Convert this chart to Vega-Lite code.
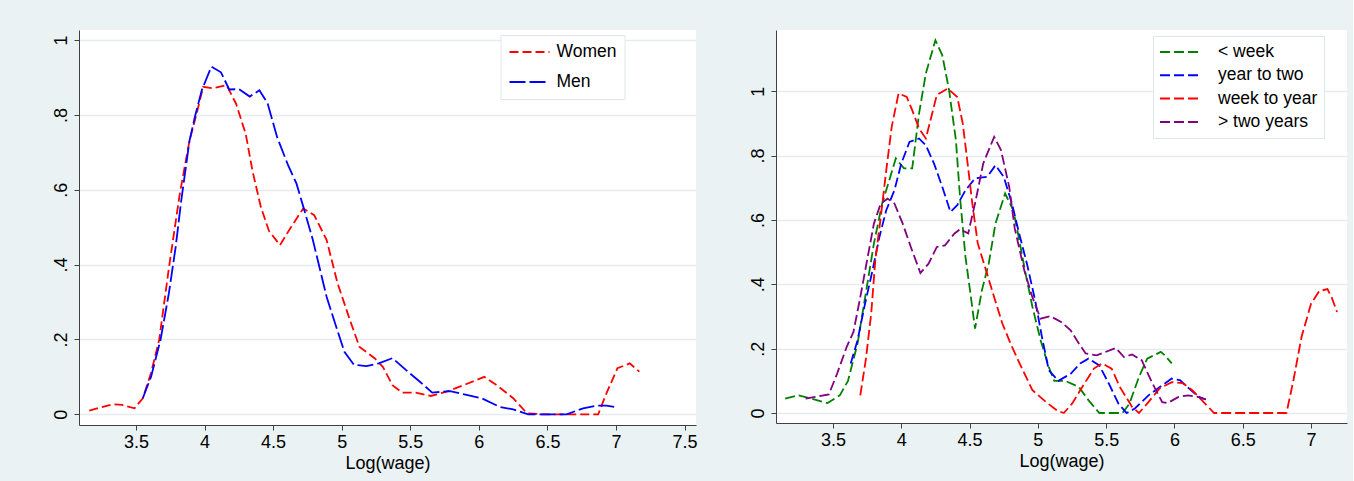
{
  "$schema": "https://vega.github.io/schema/vega-lite/v6.json",
  "background": "#eaf2f3",
  "autosize": {"type": "pad"},
  "padding": {"left": 52, "top": 30, "right": 6, "bottom": 9},
  "bounds": "flush",
  "spacing": 80,
  "resolve": {
    "scale": {"color": "independent", "strokeDash": "independent", "x": "independent", "y": "independent"},
    "legend": {"color": "independent", "strokeDash": "independent"}
  },
  "config": {
    "view": {"fill": "white", "stroke": null},
    "font": "Liberation Sans",
    "axis": {
      "labelFont": "Liberation Sans", "labelFontSize": 18, "labelColor": "#000000",
      "titleFont": "Liberation Sans", "titleFontSize": 18, "titleFontWeight": "normal", "titleColor": "#000000",
      "domainColor": "#404040", "domainWidth": 1, "tickColor": "#404040", "tickSize": 5, "tickWidth": 1,
      "gridColor": "#e4ecee", "gridWidth": 1.5
    },
    "axisX": {"grid": false, "labelPadding": 3, "titlePadding": 3, "labelFlush": false, "labelOverlap": false},
    "axisY": {"grid": true, "labelAngle": 270, "labelAlign": "center", "labelBaseline": "alphabetic", "labelPadding": 8, "labelOverlap": false},
    "legend": {
      "labelFont": "Liberation Sans", "labelFontSize": 17.5, "labelColor": "#000000",
      "symbolType": "stroke", "symbolStrokeWidth": 2,
      "fillColor": "white", "strokeColor": "#dde6e8"
    }
  },
  "datasets": {
    "gender": [
      {"x": 3.16, "y": 0.01, "s": "Women"}, {"x": 3.33, "y": 0.027, "s": "Women"}, {"x": 3.40, "y": 0.025, "s": "Women"},
      {"x": 3.49, "y": 0.016, "s": "Women"}, {"x": 3.55, "y": 0.043, "s": "Women"}, {"x": 3.61, "y": 0.11, "s": "Women"},
      {"x": 3.67, "y": 0.2, "s": "Women"}, {"x": 3.74, "y": 0.39, "s": "Women"}, {"x": 3.82, "y": 0.59, "s": "Women"},
      {"x": 3.89, "y": 0.73, "s": "Women"}, {"x": 3.94, "y": 0.80, "s": "Women"}, {"x": 3.99, "y": 0.875, "s": "Women"},
      {"x": 4.06, "y": 0.871, "s": "Women"}, {"x": 4.16, "y": 0.88, "s": "Women"}, {"x": 4.23, "y": 0.83, "s": "Women"},
      {"x": 4.30, "y": 0.75, "s": "Women"}, {"x": 4.35, "y": 0.65, "s": "Women"}, {"x": 4.41, "y": 0.555, "s": "Women"},
      {"x": 4.47, "y": 0.49, "s": "Women"}, {"x": 4.55, "y": 0.452, "s": "Women"}, {"x": 4.63, "y": 0.50, "s": "Women"},
      {"x": 4.72, "y": 0.55, "s": "Women"}, {"x": 4.80, "y": 0.532, "s": "Women"}, {"x": 4.89, "y": 0.466, "s": "Women"},
      {"x": 4.97, "y": 0.35, "s": "Women"}, {"x": 5.06, "y": 0.252, "s": "Women"}, {"x": 5.13, "y": 0.18, "s": "Women"},
      {"x": 5.24, "y": 0.15, "s": "Women"}, {"x": 5.30, "y": 0.127, "s": "Women"}, {"x": 5.37, "y": 0.078, "s": "Women"},
      {"x": 5.44, "y": 0.058, "s": "Women"}, {"x": 5.54, "y": 0.058, "s": "Women"}, {"x": 5.65, "y": 0.049, "s": "Women"},
      {"x": 5.76, "y": 0.06, "s": "Women"}, {"x": 5.91, "y": 0.081, "s": "Women"}, {"x": 6.04, "y": 0.10, "s": "Women"},
      {"x": 6.13, "y": 0.078, "s": "Women"}, {"x": 6.25, "y": 0.043, "s": "Women"}, {"x": 6.35, "y": 0.003, "s": "Women"},
      {"x": 6.46, "y": 0, "s": "Women"}, {"x": 6.87, "y": 0, "s": "Women"}, {"x": 6.93, "y": 0.056, "s": "Women"},
      {"x": 7.01, "y": 0.123, "s": "Women"}, {"x": 7.10, "y": 0.136, "s": "Women"}, {"x": 7.17, "y": 0.114, "s": "Women"},
      {"x": 3.55, "y": 0.043, "s": "Men"}, {"x": 3.61, "y": 0.10, "s": "Men"}, {"x": 3.68, "y": 0.2, "s": "Men"},
      {"x": 3.74, "y": 0.323, "s": "Men"}, {"x": 3.79, "y": 0.448, "s": "Men"}, {"x": 3.83, "y": 0.57, "s": "Men"},
      {"x": 3.89, "y": 0.73, "s": "Men"}, {"x": 3.93, "y": 0.795, "s": "Men"}, {"x": 3.98, "y": 0.866, "s": "Men"},
      {"x": 4.05, "y": 0.929, "s": "Men"}, {"x": 4.12, "y": 0.914, "s": "Men"}, {"x": 4.18, "y": 0.868, "s": "Men"},
      {"x": 4.25, "y": 0.869, "s": "Men"}, {"x": 4.33, "y": 0.849, "s": "Men"}, {"x": 4.40, "y": 0.866, "s": "Men"},
      {"x": 4.46, "y": 0.831, "s": "Men"}, {"x": 4.53, "y": 0.74, "s": "Men"}, {"x": 4.61, "y": 0.665, "s": "Men"},
      {"x": 4.67, "y": 0.617, "s": "Men"}, {"x": 4.72, "y": 0.555, "s": "Men"}, {"x": 4.79, "y": 0.466, "s": "Men"},
      {"x": 4.89, "y": 0.314, "s": "Men"}, {"x": 4.96, "y": 0.234, "s": "Men"}, {"x": 5.02, "y": 0.167, "s": "Men"},
      {"x": 5.09, "y": 0.132, "s": "Men"}, {"x": 5.18, "y": 0.129, "s": "Men"}, {"x": 5.27, "y": 0.136, "s": "Men"},
      {"x": 5.37, "y": 0.15, "s": "Men"}, {"x": 5.47, "y": 0.118, "s": "Men"}, {"x": 5.57, "y": 0.087, "s": "Men"},
      {"x": 5.66, "y": 0.058, "s": "Men"}, {"x": 5.79, "y": 0.062, "s": "Men"}, {"x": 5.91, "y": 0.052, "s": "Men"},
      {"x": 6.02, "y": 0.043, "s": "Men"}, {"x": 6.15, "y": 0.02, "s": "Men"}, {"x": 6.25, "y": 0.013, "s": "Men"},
      {"x": 6.36, "y": 0, "s": "Men"}, {"x": 6.64, "y": 0, "s": "Men"}, {"x": 6.76, "y": 0.016, "s": "Men"},
      {"x": 6.86, "y": 0.023, "s": "Men"}, {"x": 6.93, "y": 0.023, "s": "Men"}, {"x": 7.00, "y": 0.019, "s": "Men"}
    ],
    "tenure": [
      {"x": 3.15, "y": 0.045, "s": "< week"}, {"x": 3.25, "y": 0.055, "s": "< week"}, {"x": 3.34, "y": 0.045, "s": "< week"},
      {"x": 3.46, "y": 0.031, "s": "< week"}, {"x": 3.55, "y": 0.055, "s": "< week"}, {"x": 3.61, "y": 0.10, "s": "< week"},
      {"x": 3.68, "y": 0.216, "s": "< week"}, {"x": 3.74, "y": 0.371, "s": "< week"}, {"x": 3.80, "y": 0.527, "s": "< week"},
      {"x": 3.86, "y": 0.651, "s": "< week"}, {"x": 3.92, "y": 0.734, "s": "< week"}, {"x": 3.96, "y": 0.791, "s": "< week"},
      {"x": 4.02, "y": 0.76, "s": "< week"}, {"x": 4.08, "y": 0.76, "s": "< week"}, {"x": 4.13, "y": 0.93, "s": "< week"},
      {"x": 4.18, "y": 1.055, "s": "< week"}, {"x": 4.25, "y": 1.158, "s": "< week"}, {"x": 4.30, "y": 1.112, "s": "< week"},
      {"x": 4.35, "y": 1.003, "s": "< week"}, {"x": 4.40, "y": 0.848, "s": "< week"}, {"x": 4.43, "y": 0.671, "s": "< week"},
      {"x": 4.47, "y": 0.485, "s": "< week"}, {"x": 4.51, "y": 0.36, "s": "< week"}, {"x": 4.54, "y": 0.262, "s": "< week"},
      {"x": 4.59, "y": 0.381, "s": "< week"}, {"x": 4.64, "y": 0.464, "s": "< week"}, {"x": 4.69, "y": 0.589, "s": "< week"},
      {"x": 4.76, "y": 0.682, "s": "< week"}, {"x": 4.82, "y": 0.63, "s": "< week"}, {"x": 4.85, "y": 0.568, "s": "< week"},
      {"x": 4.91, "y": 0.433, "s": "< week"}, {"x": 4.96, "y": 0.33, "s": "< week"}, {"x": 5.02, "y": 0.226, "s": "< week"},
      {"x": 5.08, "y": 0.143, "s": "< week"}, {"x": 5.12, "y": 0.10, "s": "< week"}, {"x": 5.20, "y": 0.10, "s": "< week"},
      {"x": 5.30, "y": 0.081, "s": "< week"}, {"x": 5.37, "y": 0.04, "s": "< week"}, {"x": 5.45, "y": 0, "s": "< week"},
      {"x": 5.62, "y": 0, "s": "< week"}, {"x": 5.67, "y": 0.029, "s": "< week"}, {"x": 5.74, "y": 0.112, "s": "< week"},
      {"x": 5.80, "y": 0.169, "s": "< week"}, {"x": 5.90, "y": 0.19, "s": "< week"}, {"x": 5.93, "y": 0.179, "s": "< week"},
      {"x": 5.98, "y": 0.154, "s": "< week"},
      {"x": 3.63, "y": 0.154, "s": "year to two"}, {"x": 3.68, "y": 0.226, "s": "year to two"}, {"x": 3.73, "y": 0.33, "s": "year to two"},
      {"x": 3.79, "y": 0.444, "s": "year to two"}, {"x": 3.84, "y": 0.547, "s": "year to two"}, {"x": 3.89, "y": 0.63, "s": "year to two"},
      {"x": 3.95, "y": 0.692, "s": "year to two"}, {"x": 4.00, "y": 0.775, "s": "year to two"}, {"x": 4.06, "y": 0.842, "s": "year to two"},
      {"x": 4.13, "y": 0.853, "s": "year to two"}, {"x": 4.18, "y": 0.832, "s": "year to two"}, {"x": 4.24, "y": 0.775, "s": "year to two"},
      {"x": 4.30, "y": 0.703, "s": "year to two"}, {"x": 4.36, "y": 0.625, "s": "year to two"}, {"x": 4.41, "y": 0.646, "s": "year to two"},
      {"x": 4.47, "y": 0.692, "s": "year to two"}, {"x": 4.54, "y": 0.729, "s": "year to two"}, {"x": 4.63, "y": 0.734, "s": "year to two"},
      {"x": 4.69, "y": 0.77, "s": "year to two"}, {"x": 4.75, "y": 0.734, "s": "year to two"}, {"x": 4.81, "y": 0.651, "s": "year to two"},
      {"x": 4.86, "y": 0.563, "s": "year to two"}, {"x": 4.92, "y": 0.464, "s": "year to two"}, {"x": 4.98, "y": 0.35, "s": "year to two"},
      {"x": 5.03, "y": 0.236, "s": "year to two"}, {"x": 5.08, "y": 0.133, "s": "year to two"}, {"x": 5.15, "y": 0.10, "s": "year to two"},
      {"x": 5.24, "y": 0.122, "s": "year to two"}, {"x": 5.31, "y": 0.154, "s": "year to two"}, {"x": 5.37, "y": 0.169, "s": "year to two"},
      {"x": 5.45, "y": 0.148, "s": "year to two"}, {"x": 5.52, "y": 0.091, "s": "year to two"}, {"x": 5.59, "y": 0.029, "s": "year to two"},
      {"x": 5.65, "y": 0, "s": "year to two"}, {"x": 5.71, "y": 0.014, "s": "year to two"}, {"x": 5.81, "y": 0.055, "s": "year to two"},
      {"x": 5.91, "y": 0.086, "s": "year to two"}, {"x": 5.98, "y": 0.107, "s": "year to two"}, {"x": 6.04, "y": 0.102, "s": "year to two"},
      {"x": 6.12, "y": 0.071, "s": "year to two"}, {"x": 6.18, "y": 0.05, "s": "year to two"}, {"x": 6.23, "y": 0.042, "s": "year to two"},
      {"x": 3.70, "y": 0.055, "s": "week to year"}, {"x": 3.74, "y": 0.164, "s": "week to year"}, {"x": 3.78, "y": 0.309, "s": "week to year"},
      {"x": 3.81, "y": 0.475, "s": "week to year"}, {"x": 3.85, "y": 0.609, "s": "week to year"}, {"x": 3.89, "y": 0.754, "s": "week to year"},
      {"x": 3.93, "y": 0.889, "s": "week to year"}, {"x": 3.98, "y": 0.993, "s": "week to year"}, {"x": 4.04, "y": 0.982, "s": "week to year"},
      {"x": 4.08, "y": 0.941, "s": "week to year"}, {"x": 4.13, "y": 0.884, "s": "week to year"}, {"x": 4.18, "y": 0.853, "s": "week to year"},
      {"x": 4.22, "y": 0.92, "s": "week to year"}, {"x": 4.26, "y": 0.988, "s": "week to year"}, {"x": 4.34, "y": 1.008, "s": "week to year"},
      {"x": 4.41, "y": 0.982, "s": "week to year"}, {"x": 4.45, "y": 0.9, "s": "week to year"}, {"x": 4.48, "y": 0.796, "s": "week to year"},
      {"x": 4.52, "y": 0.651, "s": "week to year"}, {"x": 4.56, "y": 0.527, "s": "week to year"}, {"x": 4.62, "y": 0.444, "s": "week to year"},
      {"x": 4.68, "y": 0.36, "s": "week to year"}, {"x": 4.74, "y": 0.278, "s": "week to year"}, {"x": 4.80, "y": 0.216, "s": "week to year"},
      {"x": 4.85, "y": 0.169, "s": "week to year"}, {"x": 4.89, "y": 0.133, "s": "week to year"}, {"x": 4.96, "y": 0.071, "s": "week to year"},
      {"x": 5.06, "y": 0.034, "s": "week to year"}, {"x": 5.14, "y": 0.008, "s": "week to year"}, {"x": 5.19, "y": 0, "s": "week to year"},
      {"x": 5.25, "y": 0.029, "s": "week to year"}, {"x": 5.34, "y": 0.091, "s": "week to year"}, {"x": 5.41, "y": 0.138, "s": "week to year"},
      {"x": 5.47, "y": 0.154, "s": "week to year"}, {"x": 5.54, "y": 0.138, "s": "week to year"}, {"x": 5.60, "y": 0.081, "s": "week to year"},
      {"x": 5.69, "y": 0.019, "s": "week to year"}, {"x": 5.74, "y": 0, "s": "week to year"}, {"x": 5.80, "y": 0.029, "s": "week to year"},
      {"x": 5.89, "y": 0.076, "s": "week to year"}, {"x": 5.98, "y": 0.096, "s": "week to year"}, {"x": 6.06, "y": 0.093, "s": "week to year"},
      {"x": 6.13, "y": 0.071, "s": "week to year"}, {"x": 6.20, "y": 0.04, "s": "week to year"}, {"x": 6.29, "y": 0, "s": "week to year"},
      {"x": 6.82, "y": 0, "s": "week to year"}, {"x": 6.87, "y": 0.10, "s": "week to year"}, {"x": 6.93, "y": 0.236, "s": "week to year"},
      {"x": 7.00, "y": 0.34, "s": "week to year"}, {"x": 7.06, "y": 0.379, "s": "week to year"}, {"x": 7.12, "y": 0.385, "s": "week to year"},
      {"x": 7.15, "y": 0.36, "s": "week to year"}, {"x": 7.19, "y": 0.314, "s": "week to year"},
      {"x": 3.30, "y": 0.045, "s": "> two years"}, {"x": 3.37, "y": 0.05, "s": "> two years"}, {"x": 3.47, "y": 0.058, "s": "> two years"},
      {"x": 3.53, "y": 0.122, "s": "> two years"}, {"x": 3.60, "y": 0.205, "s": "> two years"}, {"x": 3.65, "y": 0.252, "s": "> two years"},
      {"x": 3.70, "y": 0.36, "s": "> two years"}, {"x": 3.75, "y": 0.475, "s": "> two years"}, {"x": 3.80, "y": 0.589, "s": "> two years"},
      {"x": 3.85, "y": 0.651, "s": "> two years"}, {"x": 3.90, "y": 0.666, "s": "> two years"}, {"x": 3.95, "y": 0.651, "s": "> two years"},
      {"x": 4.01, "y": 0.589, "s": "> two years"}, {"x": 4.07, "y": 0.516, "s": "> two years"}, {"x": 4.14, "y": 0.435, "s": "> two years"},
      {"x": 4.20, "y": 0.464, "s": "> two years"}, {"x": 4.26, "y": 0.516, "s": "> two years"}, {"x": 4.32, "y": 0.521, "s": "> two years"},
      {"x": 4.39, "y": 0.558, "s": "> two years"}, {"x": 4.43, "y": 0.571, "s": "> two years"}, {"x": 4.49, "y": 0.558, "s": "> two years"},
      {"x": 4.54, "y": 0.651, "s": "> two years"}, {"x": 4.60, "y": 0.775, "s": "> two years"}, {"x": 4.68, "y": 0.858, "s": "> two years"},
      {"x": 4.73, "y": 0.817, "s": "> two years"}, {"x": 4.79, "y": 0.703, "s": "> two years"}, {"x": 4.83, "y": 0.575, "s": "> two years"},
      {"x": 4.90, "y": 0.444, "s": "> two years"}, {"x": 4.96, "y": 0.36, "s": "> two years"}, {"x": 5.02, "y": 0.293, "s": "> two years"},
      {"x": 5.09, "y": 0.301, "s": "> two years"}, {"x": 5.17, "y": 0.283, "s": "> two years"}, {"x": 5.24, "y": 0.257, "s": "> two years"},
      {"x": 5.30, "y": 0.216, "s": "> two years"}, {"x": 5.35, "y": 0.185, "s": "> two years"}, {"x": 5.43, "y": 0.179, "s": "> two years"},
      {"x": 5.57, "y": 0.202, "s": "> two years"}, {"x": 5.63, "y": 0.174, "s": "> two years"}, {"x": 5.69, "y": 0.182, "s": "> two years"},
      {"x": 5.76, "y": 0.164, "s": "> two years"}, {"x": 5.84, "y": 0.091, "s": "> two years"}, {"x": 5.91, "y": 0.034, "s": "> two years"},
      {"x": 5.95, "y": 0.031, "s": "> two years"}, {"x": 6.03, "y": 0.05, "s": "> two years"}, {"x": 6.10, "y": 0.055, "s": "> two years"},
      {"x": 6.17, "y": 0.05, "s": "> two years"}, {"x": 6.23, "y": 0.042, "s": "> two years"}
    ]
  },
  "hconcat": [
    {
      "width": 617,
      "height": 395,
      "data": {"name": "gender"},
      "mark": {"type": "line", "strokeWidth": 1.8, "clip": true},
      "encoding": {
        "x": {"field": "x", "type": "quantitative",
              "scale": {"domain": [3.085, 7.583], "nice": false, "zero": false},
              "axis": {"values": [3.5, 4, 4.5, 5, 5.5, 6, 6.5, 7, 7.5], "format": "~g", "title": "Log(wage)"}},
        "y": {"field": "y", "type": "quantitative",
              "scale": {"domain": [-0.0286, 1.027], "nice": false, "zero": false},
              "axis": {"values": [0, 0.2, 0.4, 0.6, 0.8, 1], "title": null,
                       "labelExpr": "datum.value == 0 ? '0' : (datum.value == 1 ? '1' : '.' + format(datum.value * 10, '.0f'))"}},
        "color": {"field": "s", "type": "nominal",
                  "scale": {"domain": ["Women", "Men"], "range": ["#ff0000", "#0000ff"]},
                  "legend": {"orient": "none", "legendX": 421.5, "legendY": 5, "title": null,
                             "labelExpr": "datum.label + '\u00a0\u00a0\u00a0\u00a0\u00a0\u00a0\u00a0\u00a0\u00a0\u00a0\u00a0\u00a0\u00a0'",
                             "symbolSize": 1600, "clipHeight": 18, "rowPadding": 12, "padding": 8, "labelOffset": 6}},
        "strokeDash": {"field": "s", "type": "nominal",
                       "scale": {"domain": ["Women", "Men"], "range": [[9, 4], [16, 4]]},
                       "legend": {"orient": "none", "legendX": 421.5, "legendY": 5, "title": null,
                             "labelExpr": "datum.label + '\u00a0\u00a0\u00a0\u00a0\u00a0\u00a0\u00a0\u00a0\u00a0\u00a0\u00a0\u00a0\u00a0'",
                             "symbolSize": 1600, "clipHeight": 18, "rowPadding": 12, "padding": 8, "labelOffset": 6}}
      }
    },
    {
      "width": 571,
      "height": 393,
      "data": {"name": "tenure"},
      "mark": {"type": "line", "strokeWidth": 1.8, "clip": true},
      "encoding": {
        "x": {"field": "x", "type": "quantitative",
              "scale": {"domain": [3.083, 7.263], "nice": false, "zero": false},
              "axis": {"values": [3.5, 4, 4.5, 5, 5.5, 6, 6.5, 7], "format": "~g", "title": "Log(wage)"}},
        "y": {"field": "y", "type": "quantitative",
              "scale": {"domain": [-0.031, 1.19], "nice": false, "zero": false},
              "axis": {"values": [0, 0.2, 0.4, 0.6, 0.8, 1], "title": null,
                       "labelExpr": "datum.value == 0 ? '0' : (datum.value == 1 ? '1' : '.' + format(datum.value * 10, '.0f'))"}},
        "color": {"field": "s", "type": "nominal",
                  "scale": {"domain": ["< week", "year to two", "week to year", "> two years"], "range": ["#008000", "#0000ff", "#ff0000", "#800080"]},
                  "legend": {"orient": "none", "legendX": 377, "legendY": 6, "title": null,
                             "labelExpr": "datum.label + '\u00a0\u00a0\u00a0\u00a0'",
                             "symbolSize": 1444, "clipHeight": 20, "rowPadding": 3.3, "padding": 6, "labelOffset": 19}},
        "strokeDash": {"field": "s", "type": "nominal",
                       "scale": {"domain": ["< week", "year to two", "week to year", "> two years"], "range": [[10, 4], [10, 4], [10, 4], [10, 4]]},
                       "legend": {"orient": "none", "legendX": 377, "legendY": 6, "title": null,
                             "labelExpr": "datum.label + '\u00a0\u00a0\u00a0\u00a0'",
                             "symbolSize": 1444, "clipHeight": 20, "rowPadding": 3.3, "padding": 6, "labelOffset": 19}}
      }
    }
  ]
}
